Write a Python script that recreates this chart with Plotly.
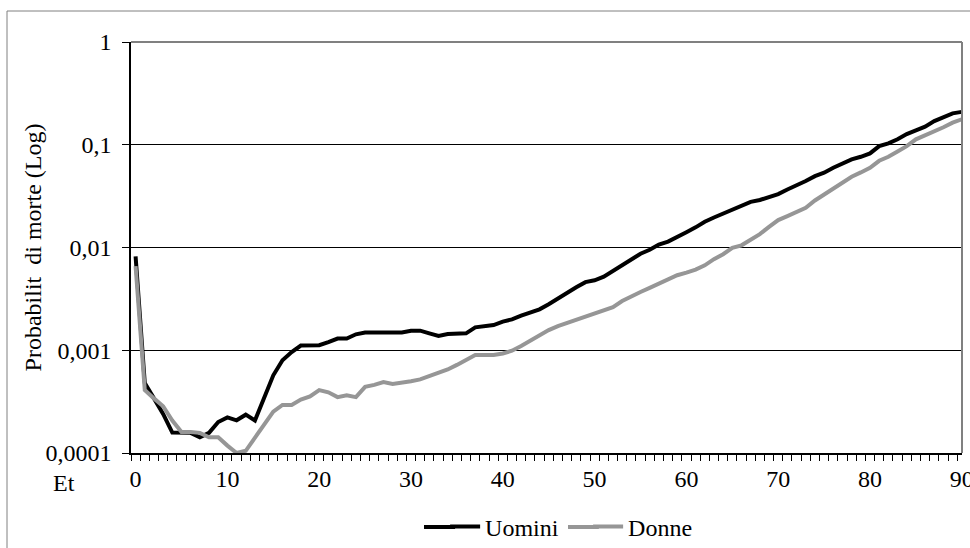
import plotly.graph_objects as go

ages = list(range(0, 91))

uomini = [
    0.0082, 0.00048, 0.00034, 0.00024, 0.000158, 0.000158, 0.000157, 0.000142, 0.000157, 0.0002,
    0.000222, 0.000208, 0.000236, 0.000207, 0.00035, 0.00057, 0.0008, 0.00096, 0.00111, 0.00111,
    0.00112, 0.0012, 0.0013, 0.0013, 0.00143, 0.00149, 0.00149, 0.00149, 0.00149, 0.00149,
    0.00155, 0.00155, 0.00146, 0.00138, 0.00144, 0.00146, 0.00146, 0.00167, 0.00172, 0.00176,
    0.0019, 0.002, 0.00217, 0.00234, 0.0025, 0.0028, 0.0032, 0.0036, 0.0041, 0.0046,
    0.0048, 0.0052, 0.0059, 0.0067, 0.0078, 0.0087, 0.0095, 0.0107, 0.0114, 0.0128,
    0.0141, 0.0157, 0.0178, 0.0196, 0.0215, 0.0232, 0.0255, 0.0278, 0.029, 0.0312,
    0.0331, 0.0367, 0.0402, 0.0443, 0.0495, 0.0534, 0.0597, 0.0653, 0.072, 0.0764,
    0.0824, 0.097, 0.103, 0.113, 0.127, 0.138, 0.15, 0.17, 0.186, 0.202,
    0.209,
]

donne = [
    0.0066, 0.00041, 0.00034, 0.000285, 0.000207, 0.00016, 0.00016, 0.000157, 0.000142, 0.000142,
    0.000118, 0.0001, 0.000105, 0.000142, 0.000192, 0.000253, 0.000294, 0.000294, 0.000331, 0.000355,
    0.00041, 0.00039, 0.00035, 0.000365, 0.00035, 0.00044, 0.00046, 0.00049, 0.00047, 0.00049,
    0.0005, 0.00052, 0.00056, 0.0006, 0.00065, 0.00072, 0.0008, 0.0009, 0.0009, 0.0009,
    0.00093, 0.00099, 0.0011, 0.00124, 0.00141, 0.00157, 0.00172, 0.00185, 0.00196, 0.0021,
    0.00226, 0.00248, 0.00263, 0.00301, 0.00337, 0.00369, 0.00404, 0.00445, 0.0049, 0.00537,
    0.0057, 0.0061, 0.0067, 0.0077, 0.0086, 0.0099, 0.0105, 0.012, 0.0135, 0.0159,
    0.0185, 0.0202, 0.0221, 0.0243, 0.0287, 0.0328, 0.0376, 0.0427, 0.0488, 0.0538,
    0.0597, 0.0698, 0.0764, 0.0861, 0.097, 0.113, 0.123, 0.136, 0.148, 0.164,
    0.177,
]

x_tick_vals = [0, 10, 20, 30, 40, 50, 60, 70, 80, 90]
x_tick_text = ["0", "10", "20", "30", "40", "50", "60", "70", "80", "90"]
y_tick_vals = [0.0001, 0.001, 0.01, 0.1, 1]
y_tick_text = ["0,0001", "0,001", "0,01", "0,1", "1"]

FONT = "Liberation Serif"
COL_U = "#000000"
COL_D = "#969696"

fig = go.Figure()
fig.add_trace(go.Scatter(x=ages, y=uomini, mode="lines", name="Uomini",
                         line=dict(color=COL_U, width=4)))
fig.add_trace(go.Scatter(x=ages, y=donne, mode="lines", name="Donne",
                         line=dict(color=COL_D, width=4)))

LEG_Y = -0.18

fig.update_layout(
    width=970, height=548,
    margin=dict(l=131, r=8, t=42, b=95, autoexpand=False),
    paper_bgcolor="white", plot_bgcolor="white",
    font=dict(family=FONT, size=24, color="black"),
    showlegend=True,
    legend=dict(orientation="h", x=0.378, xanchor="left", y=LEG_Y, yanchor="middle",
                font=dict(family=FONT, size=24, color="black"),
                bgcolor="rgba(0,0,0,0)", itemwidth=30, tracegroupgap=0,
                entrywidth=98, entrywidthmode="pixels"),
    xaxis=dict(
        range=[-0.5, 90.02], tickmode="array", tickvals=x_tick_vals, ticktext=x_tick_text,
        ticks="", showgrid=False, zeroline=False, automargin=False,
        showline=True, linecolor="black", linewidth=1.5,
        ticklabelstandoff=3, ticklabeloverflow="allow",
        tickfont=dict(family=FONT, size=24, color="black"),
        minor=dict(ticks="outside", ticklen=6, tickcolor="black", tickwidth=1,
                   tick0=-0.5, dtick=1, showgrid=False),
    ),
    yaxis=dict(
        type="log", range=[-4, 0], tickmode="array", tickvals=y_tick_vals, ticktext=y_tick_text,
        ticks="outside", ticklen=7, tickcolor="black", tickwidth=1,
        showgrid=True, gridcolor="black", gridwidth=1, zeroline=False, automargin=False,
        showline=True, linecolor="black", linewidth=1.5,
        ticklabelstandoff=6,
        tickfont=dict(family=FONT, size=24, color="black"),
    ),
    annotations=[
        dict(text="Probabilit  di morte (Log)", xref="paper", yref="paper",
             x=-0.118, y=0.5, textangle=-90, showarrow=False,
             xanchor="center", yanchor="middle",
             font=dict(family=FONT, size=24, color="black")),
        dict(text="Et", xref="paper", yref="paper", x=-0.0806, y=-0.072,
             showarrow=False, xanchor="center", yanchor="middle",
             font=dict(family=FONT, size=24, color="black")),
    ],
    shapes=[
        dict(type="rect", xref="paper", yref="paper", x0=-0.1492, x1=1.05, y0=-0.3, y1=1.0754,
             line=dict(color="#808080", width=1), layer="below"),
        dict(type="line", xref="paper", yref="paper", x0=0, x1=1, y0=1, y1=1,
             line=dict(color="#808080", width=2), layer="above"),
        dict(type="line", xref="paper", yref="paper", x0=1, x1=1, y0=0, y1=1,
             line=dict(color="#808080", width=2), layer="above"),
        # longer legend line samples, as in the reference
        dict(type="line", xref="paper", yref="paper", x0=0.3526, x1=0.39, y0=LEG_Y, y1=LEG_Y,
             line=dict(color=COL_U, width=4), layer="above"),
        dict(type="line", xref="paper", yref="paper", x0=0.5259, x1=0.563, y0=LEG_Y, y1=LEG_Y,
             line=dict(color=COL_D, width=4), layer="above"),
    ],
)

fig.write_html("out.html")
